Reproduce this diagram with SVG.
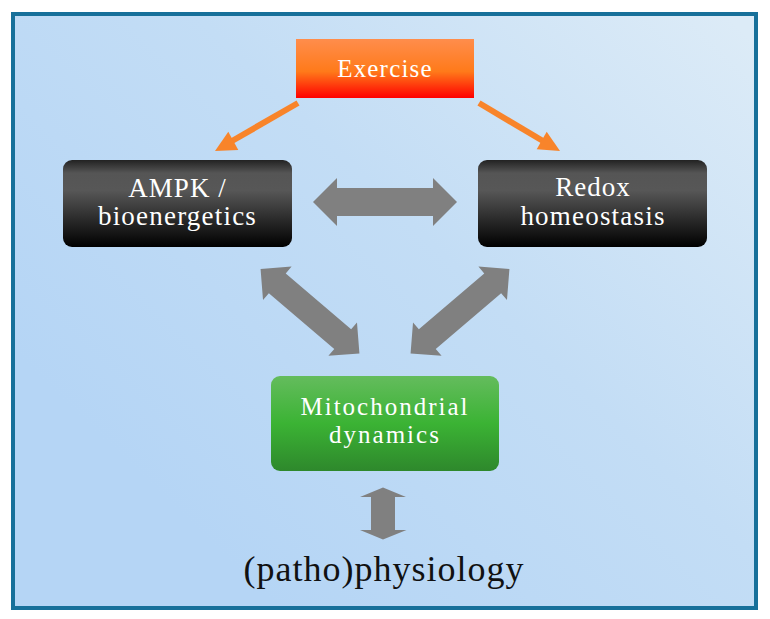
<svg xmlns="http://www.w3.org/2000/svg" width="770" height="619" viewBox="0 0 770 619">
<defs>
<linearGradient id="bg" x1="0.15" y1="0.75" x2="1" y2="0.05">
<stop offset="0" stop-color="#b5d5f5"/>
<stop offset="0.5" stop-color="#c3ddf5"/>
<stop offset="1" stop-color="#dcebf7"/>
</linearGradient>
<linearGradient id="gOrange" x1="0" y1="0" x2="0" y2="1">
<stop offset="0" stop-color="#ff8d4c"/>
<stop offset="0.55" stop-color="#ff7a1a"/>
<stop offset="1" stop-color="#ff0000"/>
</linearGradient>
<linearGradient id="gBlack" x1="0" y1="0" x2="0" y2="1">
<stop offset="0" stop-color="#222"/>
<stop offset="0.15" stop-color="#555"/>
<stop offset="0.35" stop-color="#575757"/>
<stop offset="1" stop-color="#000"/>
</linearGradient>
<linearGradient id="gGreen" x1="0" y1="0" x2="0" y2="1">
<stop offset="0" stop-color="#64bc5d"/>
<stop offset="0.5" stop-color="#3bb334"/>
<stop offset="1" stop-color="#2e882c"/>
</linearGradient>
<style>
.lbl{font-family:"Liberation Serif","Times New Roman",serif;text-anchor:middle;fill:#ffffff}
.big{font-family:"Liberation Serif","Times New Roman",serif;text-anchor:middle;fill:#111}
.gray{fill:#808080}
.orange{fill:#f8842a}
.oline{stroke:#f8842a;stroke-width:6;fill:none}
</style>
</defs>
<rect x="0" y="0" width="770" height="619" fill="#ffffff"/>
<rect x="13" y="14" width="743" height="594" fill="url(#bg)" stroke="#17709a" stroke-width="4"/>

<g id="connectors">
<line class="oline" x1="298" y1="103" x2="232" y2="141"/>
<polygon class="orange" points="215,151 228.3,131.7 238.3,150"/>
<line class="oline" x1="479" y1="103" x2="543" y2="141"/>
<polygon class="orange" points="560,151 546.7,131.7 536.7,149.3"/>
<polygon class="gray" points="313,202 337,178 337,188 433,188 433,178 457,202 433,226 433,216 337,216 337,226"/>
<polygon class="gray" transform="translate(310,311.2) rotate(40.5)" points="-65,0 -43,-22 -43,-13 43,-13 43,-22 65,0 43,22 43,13 -43,13 -43,22"/>
<polygon class="gray" transform="translate(460,311.2) rotate(-40.5)" points="-65,0 -43,-22 -43,-13 43,-13 43,-22 65,0 43,22 43,13 -43,13 -43,22"/>
<polygon class="gray" points="383,487.5 406,497 395,497 395,530 406.5,530 383,539.5 360,530 371,530 371,497 360,497"/>
</g>

<g id="exercise">
<rect x="296" y="39" width="178" height="59" fill="url(#gOrange)"/>
<text class="lbl" x="385" y="77" font-size="25" letter-spacing="1.2">Exercise</text>
</g>

<g id="ampk">
<rect x="63" y="160" width="229" height="87" rx="9" fill="url(#gBlack)"/>
<text class="lbl" x="177.5" y="197" font-size="27" letter-spacing="1">AMPK /</text>
<text class="lbl" x="177.5" y="225" font-size="27" letter-spacing="1.2">bioenergetics</text>
</g>

<g id="redox">
<rect x="478" y="160" width="229" height="87" rx="9" fill="url(#gBlack)"/>
<text class="lbl" x="593" y="196" font-size="27" letter-spacing="1">Redox</text>
<text class="lbl" x="593" y="225" font-size="27" letter-spacing="1.2">homeostasis</text>
</g>

<g id="mito">
<rect x="271" y="376" width="228" height="95" rx="9" fill="url(#gGreen)"/>
<text class="lbl" x="385" y="415" font-size="25" letter-spacing="2">Mitochondrial</text>
<text class="lbl" x="385" y="443" font-size="25" letter-spacing="2">dynamics</text>
</g>

<g id="physiology">
<text class="big" x="384" y="581" font-size="36" letter-spacing="1">(patho)physiology</text>
</g>
</svg>
